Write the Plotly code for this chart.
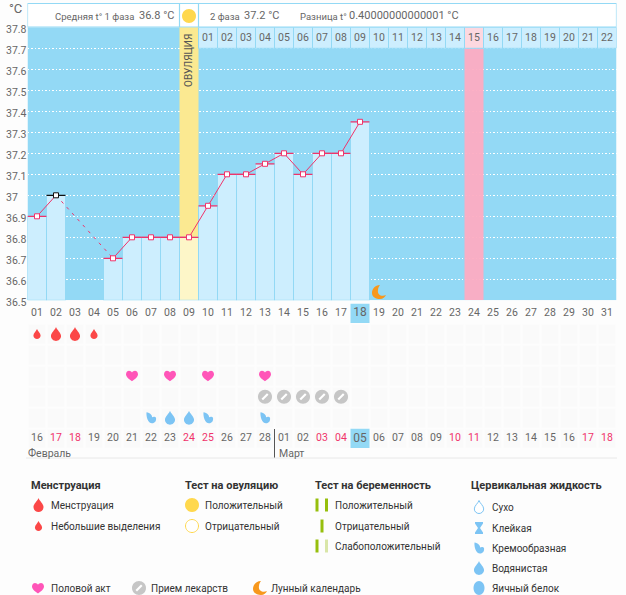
import plotly.graph_objects as go

W, H = 626, 595
FONT = "Roboto"
GRAY = "#666666"
DARK = "#333333"
RED = "#f0336a"
BLUE = "#93d9f5"
LIGHT = "#cdeefe"

# data
days = list(range(1, 32))
top_dates = ["%02d" % d for d in days]
temps = [36.9, 37.0, None, None, 36.7, 36.8, 36.8, 36.8, 36.8, 36.95, 37.1, 37.1, 37.15, 37.2, 37.1, 37.2, 37.2, 37.35]
y_ticks = [37.8, 37.7, 37.6, 37.5, 37.4, 37.3, 37.2, 37.1, 37, 36.9, 36.8, 36.7, 36.6, 36.5]
cycle_days = list(range(10, 32))
cycle_labels = ["%02d" % d for d in range(1, 23)]
lower_dates = ["16", "17", "18", "19", "20", "21", "22", "23", "24", "25", "26", "27", "28",
               "01", "02", "03", "04", "05", "06", "07", "08", "09", "10", "11", "12", "13",
               "14", "15", "16", "17", "18"]
red_date_days = [2, 3, 9, 10, 16, 17, 23, 24, 30, 31]
menstruation_big = [2, 3]
menstruation_small = [1, 4]
sex_days = [6, 8, 10, 13]
pill_days = [13, 14, 15, 16, 17]
mucus_cream = [7, 10, 13]
mucus_water = [8, 9]
ovulation_day = 9
peak_day = 24
today = 18
black_day = 2
moon_day = 19
moon_temp = 36.54
month_break = 13.5

# rows of the lower panel
ROW_TOP, ROW_MENS, ROW_TEST, ROW_SEX, ROW_PILL, ROW_MUCUS, ROW_BOTTOM = 0, 1, 2, 3, 4, 5, 6


def px(x):
    return x / W


def py(y):
    return 1 - y / H


# icons, pixels around the anchor, y up
def circle(r, rx=None):
    rx = rx or r
    kx, ky = 0.552 * rx, 0.552 * r
    return (f"M{rx},0 C{rx},{ky} {kx},{r} 0,{r} C{-kx},{r} {-rx},{ky} {-rx},0 "
            f"C{-rx},{-ky} {-kx},{-r} 0,{-r} C{kx},{-r} {rx},{-ky} {rx},0 Z")


def drop(s):
    w = 0.72 * s
    return (f"M0,{s} C{.15*s},{.55*s} {w},{.2*s} {w},{-.3*s} C{w},{-.72*s} {.35*s},{-s} 0,{-s} "
            f"C{-.35*s},{-s} {-w},{-.72*s} {-w},{-.3*s} C{-w},{.2*s} {-.15*s},{.55*s} 0,{s} Z")


HEART = ("M0,-5.5 C-2.5,-3.5 -6,-1.5 -6,1.5 C-6,4 -4.2,5 -3,5 C-1.8,5 -.5,4.3 0,3.2 "
         "C.5,4.3 1.8,5 3,5 C4.2,5 6,4 6,1.5 C6,-1.5 2.5,-3.5 0,-5.5 Z")
MOON = ("M1,7 C-4,7 -7,3 -7,-1 C-7,-5 -3,-7 1,-7 C4,-7 6,-5 7,-3 C3,-5 -2,-3 -1,2 C-1,4 0,6 1,7 Z")
CREAM = "M-4.5,5.5 C-5,1 -3,-5.5 1,-5.5 C4,-5.5 5.5,-3 5,0 C4,1.5 2,1 1,0.5 C1.5,2.5 -1,5 -4.5,5.5 Z"
STICKY = "M-4,6 L4,6 L4,4.5 L1,0 L4,-4.5 L4,-6 L-4,-6 L-4,-4.5 L-1,0 L-4,4.5 Z"


def icon(path, xa, ya, xref, yref, fill, line=None, lw=0):
    return dict(type="path", path=path, xref=xref, yref=yref, xsizemode="pixel", ysizemode="pixel",
                xanchor=xa, yanchor=ya, fillcolor=fill, line=dict(color=line or fill, width=lw), layer="above")


def pill(xa, ya, xref, yref):
    return [icon(circle(7), xa, ya, xref, yref, "#c6c6c6"),
            icon("M-3.5,-2 L2,3.5 L3.5,2 L-2,-3.5 Z", xa, ya, xref, yref, "#ffffff")]


def paper_icon(path, x, y, fill, line=None, lw=0):
    return icon(path, px(x), py(y), "paper", "paper", fill, line, lw)


def label(text, x, y, size=10, color=DARK, bold=False, anchor="left"):
    return dict(text=f"<b>{text}</b>" if bold else text, x=px(x - 1), y=py(y), xref="paper", yref="paper",
                xanchor=anchor, yanchor="middle", showarrow=False, borderpad=0,
                font=dict(family=FONT, size=size, color=color))


fig = go.Figure()

# lower panel cells
fig.add_trace(go.Heatmap(x=days, y=[ROW_MENS, ROW_TEST, ROW_SEX, ROW_PILL, ROW_MUCUS, ROW_BOTTOM],
                         z=[[1] * 31] * 6, xgap=2, ygap=2, showscale=False, hoverinfo="skip", yaxis="y2",
                         colorscale=[[0, "#fafafa"], [1, "#fafafa"]]))

# today cells
fig.add_trace(go.Bar(x=[today, today], y=[0.92, 0.92], base=[ROW_TOP - 0.45, ROW_BOTTOM - 0.47], width=1,
                     marker_color=BLUE, marker_line_width=0, yaxis="y2"))

# bands and bars
ov_temp = temps[ovulation_day - 1]
fig.add_trace(go.Bar(x=[ovulation_day], y=[37.8 - ov_temp], base=[ov_temp], width=1, marker_color="#fbe991", marker_line_width=0))
fig.add_trace(go.Bar(x=[peak_day], y=[1.2], base=[36.5], width=1, marker_color="#fdacc2", marker_line_width=0, opacity=0.95))

bar_days = [d for d, t in zip(days, temps) if t is not None]
bar_vals = [t for t in temps if t is not None]
bar_colors = ["#fdf6c8" if d == ovulation_day else LIGHT for d in bar_days]
fig.add_trace(go.Bar(x=bar_days, y=[t - 36.5 for t in bar_vals], base=[36.5] * len(bar_vals), width=1,
                     marker=dict(color=bar_colors, line=dict(color=BLUE, width=1))))

# cycle day header row
fig.add_trace(go.Bar(x=cycle_days, y=[0.1] * len(cycle_days), base=[37.7] * len(cycle_days), width=1,
                     marker=dict(color=["#fdd8e0" if d == peak_day else LIGHT for d in cycle_days],
                                 line=dict(color=BLUE, width=1))))
fig.add_trace(go.Scatter(x=cycle_days, y=[37.745] * len(cycle_days), text=cycle_labels, mode="text",
                         textfont=dict(family=FONT, size=10.5, color=GRAY), cliponaxis=False))

# temperature line, the missing days get a dashed link
gap_x = [d for d, t in zip(days[:5], temps[:5]) if t is not None][1:]
gap_y = [t for t in temps[:5] if t is not None][1:]
fig.add_trace(go.Scatter(x=gap_x, y=gap_y, mode="lines", line=dict(color=RED, width=1, dash="3px,5px")))
fig.add_trace(go.Scatter(x=days[:18], y=temps, mode="lines", line=dict(color=RED, width=1)))
fig.add_trace(go.Scatter(x=bar_days, y=bar_vals, mode="markers",
                         marker=dict(symbol="line-ew", size=13.5,
                                     line=dict(width=1.3, color=["#111111" if d == black_day else RED for d in bar_days]))))
fig.add_trace(go.Scatter(x=bar_days, y=bar_vals, mode="markers",
                         marker=dict(symbol="square", size=5, color="#ffffff",
                                     line=dict(width=1, color=["#111111" if d == black_day else RED for d in bar_days]))))

# date rows
fig.add_trace(go.Scatter(x=days, y=[ROW_TOP] * 31, text=top_dates, mode="text", yaxis="y2", cliponaxis=False,
                         textfont=dict(family=FONT, color=GRAY, size=[12 if d == today else 10.5 for d in days])))
fig.add_trace(go.Scatter(x=days, y=[ROW_BOTTOM] * 31, text=lower_dates, mode="text", yaxis="y2", cliponaxis=False,
                         textfont=dict(family=FONT, size=[12 if d == today else 10.5 for d in days],
                                       color=[RED if d in red_date_days else GRAY for d in days])))

shapes = [
    # blue background of the chart
    dict(type="rect", xref="x", yref="y", x0=0.5, x1=31.5, y0=36.5, y1=37.8, fillcolor=BLUE, line_width=0, layer="below"),
    # header strip
    dict(type="rect", xref="x", yref="paper", x0=0.5, x1=31.5, y0=py(27), y1=py(3.5), fillcolor="#ffffff",
         line=dict(color=BLUE, width=1.2), layer="below"),
    dict(type="rect", xref="x", yref="paper", x0=ovulation_day - 0.5, x1=ovulation_day + 0.5, y0=py(27), y1=py(3.5),
         fillcolor="#ffffff", line=dict(color=BLUE, width=1.2), layer="below"),
    # month separator and bottom rule
    dict(type="line", xref="x", yref="paper", x0=month_break, x1=month_break, y0=py(458), y1=py(429),
         line=dict(color="#555555", width=1)),
    dict(type="line", xref="paper", yref="paper", x0=px(26), x1=px(617), y0=py(458), y1=py(458),
         line=dict(color="#e8e8e8", width=1)),
]

# sun and moon
shapes.append(icon(circle(7), ovulation_day, py(16), "x", "paper", "#ffd84d"))
shapes.append(icon(MOON, moon_day, moon_temp, "x", "y", "#f7981d"))

# chart symbols
for d in menstruation_big:
    shapes.append(icon(drop(7), d, ROW_MENS, "x", "y2", "#fb4747"))
for d in menstruation_small:
    shapes.append(icon(drop(5), d, ROW_MENS, "x", "y2", "#fb4747"))
for d in sex_days:
    shapes.append(icon(HEART, d, ROW_SEX, "x", "y2", "#ff55b8"))
for d in pill_days:
    shapes += pill(d, ROW_PILL, "x", "y2")
for d in mucus_cream:
    shapes.append(icon(CREAM, d, ROW_MUCUS, "x", "y2", "#7cc4f4"))
for d in mucus_water:
    shapes.append(icon(drop(7), d, ROW_MUCUS, "x", "y2", "#7cc4f4"))

# legend symbols
shapes += [
    paper_icon(drop(7), 38.5, 505, "#fb4747"),
    paper_icon(drop(5), 38.5, 526, "#fb4747"),
    paper_icon(circle(7), 192, 505, "#ffd84d"),
    paper_icon(circle(6.5), 192, 526, "#ffffff", "#ffd84d", 1),
    paper_icon("M-1.5,-6.5 L1.5,-6.5 L1.5,6.5 L-1.5,6.5 Z", 317, 505, "#96bf0d"),
    paper_icon("M-1.5,-6.5 L1.5,-6.5 L1.5,6.5 L-1.5,6.5 Z", 326.5, 505, "#96bf0d"),
    paper_icon("M-1.5,-6.5 L1.5,-6.5 L1.5,6.5 L-1.5,6.5 Z", 322, 526, "#96bf0d"),
    paper_icon("M-1.5,-6.5 L1.5,-6.5 L1.5,6.5 L-1.5,6.5 Z", 317, 546, "#96bf0d"),
    paper_icon("M-1.5,-6.5 L1.5,-6.5 L1.5,6.5 L-1.5,6.5 Z", 326.5, 546, "#d9e6a8"),
    paper_icon(drop(6.5), 479, 507, "#ffffff", "#7cc4f4", 1),
    paper_icon(STICKY, 479, 528, "#7cc4f4"),
    paper_icon(CREAM, 479, 548, "#7cc4f4"),
    paper_icon(drop(7), 479, 568, "#7cc4f4"),
    paper_icon(circle(7, 5.5), 479, 588, "#7cc4f4"),
    paper_icon(HEART, 38, 588, "#ff55b8"),
    paper_icon(MOON, 260, 588, "#f7981d"),
]
shapes += pill(px(139), py(588), "paper", "paper")

annotations = [
    dict(text=str(t), x=px(5), y=t, xref="paper", yref="y", xanchor="left", yanchor="middle", yshift=-2,
         showarrow=False, borderpad=0, font=dict(family=FONT, size=10.5, color=GRAY)) for t in y_ticks
]
annotations += [
    label("°C", 9, 8.5, 13, GRAY),
    label("Средняя t° 1 фаза", 55, 16, 9.5, GRAY),
    label("36.8 °C", 139, 15, 11, GRAY),
    label("2 фаза", 210, 16, 9.5, GRAY),
    label("37.2 °C", 244, 15, 11, GRAY),
    label("Разница t°", 300, 16, 9.5, GRAY),
    label("0.40000000000001 °C", 349, 15, 11, GRAY),
    label("Февраль", 28, 453, 10.5, GRAY),
    label("Март", 279, 453, 10.5, GRAY),
    label("Менструация", 31, 485, 11, DARK, True),
    label("Менструация", 51, 505),
    label("Небольшие выделения", 51, 526),
    label("Тест на овуляцию", 185, 485, 11, DARK, True),
    label("Положительный", 205, 505),
    label("Отрицательный", 205, 526),
    label("Тест на беременность", 315, 485, 11, DARK, True),
    label("Положительный", 335, 505),
    label("Отрицательный", 335, 526),
    label("Слабоположительный", 335, 546),
    label("Цервикальная жидкость", 471, 485, 11, DARK, True),
    label("Сухо", 492, 507),
    label("Клейкая", 492, 528),
    label("Кремообразная", 492, 548),
    label("Водянистая", 492, 568),
    label("Яичный белок", 492, 588),
    label("Половой акт", 51, 588),
    label("Прием лекарств", 151, 588),
    label("Лунный календарь", 271, 588),
    dict(text="ОВУЛЯЦИЯ", x=ovulation_day, y=py(61), xref="x", yref="paper", textangle=-90, showarrow=False,
         xanchor="center", yanchor="middle", font=dict(family=FONT, size=10, color="#555555")),
]

fig.update_layout(
    width=W, height=H, autosize=False, margin=dict(l=0, r=0, t=0, b=0, pad=0),
    paper_bgcolor="#fdfdfd", plot_bgcolor="rgba(0,0,0,0)", showlegend=False, barmode="overlay",
    xaxis=dict(domain=[px(27.5), px(616.5)], range=[0.5, 31.5], showgrid=False, zeroline=False,
               showticklabels=False, ticks="", fixedrange=True),
    yaxis=dict(domain=[py(300.3), py(27.3)], range=[36.5, 37.8], tick0=36.5, dtick=0.1, showticklabels=False,
               showgrid=True, gridcolor="#ffffff", griddash="1.5px,2px", gridwidth=1, zeroline=False, ticks="", fixedrange=True),
    yaxis2=dict(domain=[py(449), py(302.6)], range=[6.5, -0.5], anchor="x", showgrid=False, zeroline=False,
                showticklabels=False, ticks="", fixedrange=True),
    shapes=shapes, annotations=annotations,
)

fig.write_html("out.html", config=dict(displayModeBar=False), post_script="document.body.style.margin='0';")
